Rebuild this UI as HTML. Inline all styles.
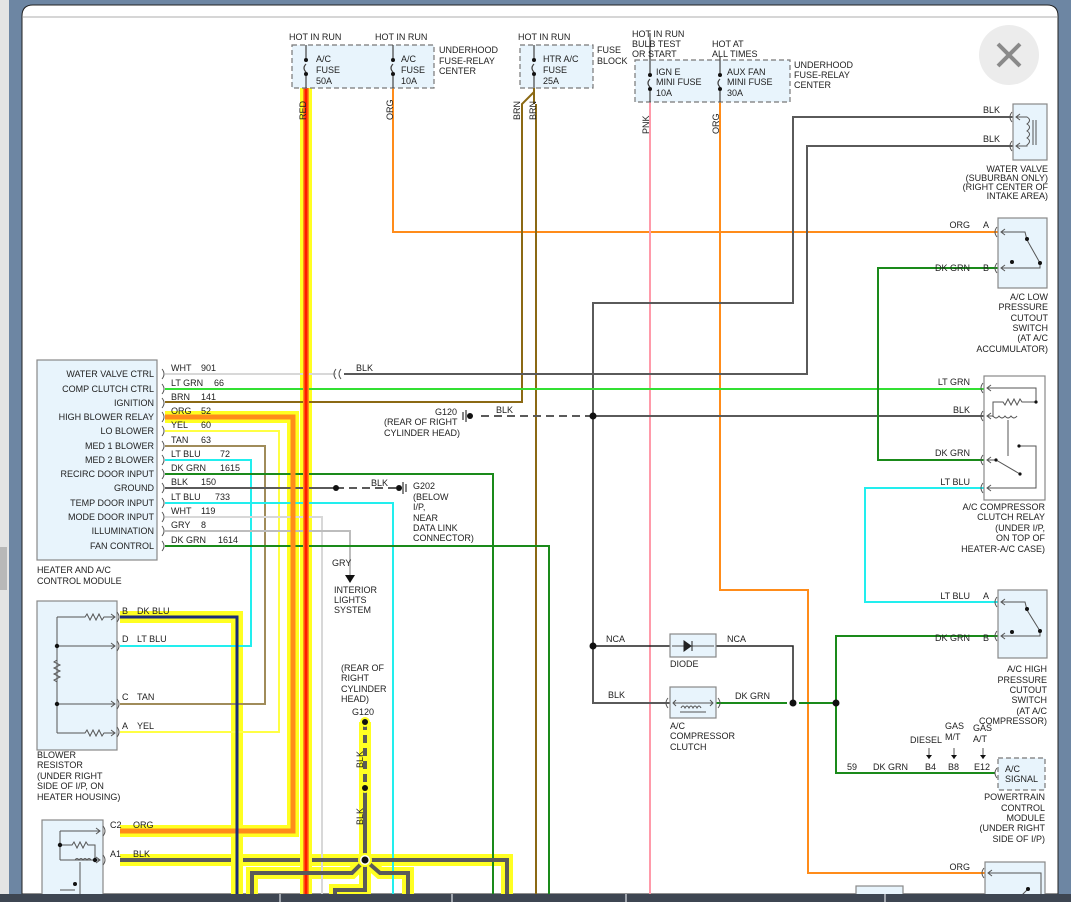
<!DOCTYPE html>
<html><head><meta charset="utf-8"><style>
html,body{margin:0;padding:0;width:1071px;height:902px;overflow:hidden;background:#6d86a3;}
svg{display:block;}
text{font-family:"Liberation Sans",sans-serif;font-size:9px;fill:#222;}
</style></head><body>
<svg width="1071" height="902" viewBox="0 0 1071 902" xmlns="http://www.w3.org/2000/svg">
<rect x="0" y="0" width="1071" height="902" fill="#6d86a3"/>
<rect x="0" y="0" width="9" height="902" fill="#e4e4e4"/>
<rect x="0" y="547" width="7" height="43" fill="#b8b8b8"/>
<path d="M22,894 L22,16 Q22,5 33,5 L1047,5 Q1058,5 1058,16 L1058,894 Z" fill="#fff" stroke="#222" stroke-width="1"/>
<line x1="23" y1="17" x2="1057" y2="17" stroke="#c8c8c8" stroke-width="1.5"/>
<circle cx="1009" cy="55" r="30" fill="#ececec"/>
<path d="M998,44 L1020,66 M1020,44 L998,66" stroke="#8a8a8a" stroke-width="4"/>

<g fill="none" stroke-linejoin="miter">
<g stroke="#ffff22" stroke-width="12">
<path d="M306,88 V894"/>
<path d="M165,417 H293 V831 H120"/>
<path d="M120,617 H237 V894"/>
<path d="M365,722 V860"/>
<path d="M120,860 H507 V894"/>
<path d="M365,860 L352,873 H252 V894"/>
<path d="M365,860 L380,873 H408 V894"/>
<path d="M365,860 V890 H335 V894"/>
</g>
<path d="M393,88 V232 H998" stroke="#ff8c1a" stroke-width="2"/>
<path d="M534,88 V104 M534,92 L522,104 V402 H165 M536,104 V894" stroke="#8b6914" stroke-width="2"/>
<path d="M650,102 V894" stroke="#ff9aaa" stroke-width="2"/>
<path d="M720,102 V590 H808 V873 H985" stroke="#ff8c1a" stroke-width="2"/>
<path d="M1013,117 H793 V303 H593 V703 H670" stroke="#5a5a5a" stroke-width="2"/>
<path d="M1013,146 H807 V374 H344" stroke="#5a5a5a" stroke-width="2"/>
<path d="M165,374 H336" stroke="#d8d8d8" stroke-width="2"/>
<path d="M165,389 H984" stroke="#33e033" stroke-width="2"/>
<path d="M984,416 H593" stroke="#5a5a5a" stroke-width="2"/>
<path d="M593,416 H478" stroke="#5a5a5a" stroke-width="2" stroke-dasharray="8,5"/>
<path d="M998,268 H878 V460 H984" stroke="#1a8a1a" stroke-width="2"/>
<path d="M984,488 H865 V602 H998" stroke="#22eeee" stroke-width="2"/>
<path d="M998,636 H836 V773 H995" stroke="#1a8a1a" stroke-width="2"/>
<path d="M716,703 H787 M799,703 H836" stroke="#1a8a1a" stroke-width="2"/>
<path d="M593,646 H670 M716,646 H793 V703" stroke="#222" stroke-width="1.5"/>
<path d="M165,431 H279 V732 H120" stroke="#ffff44" stroke-width="2"/>
<path d="M165,446 H265 V704 H120" stroke="#a08c5a" stroke-width="2"/>
<path d="M165,460 H251 V646 H120" stroke="#22eeee" stroke-width="2"/>
<path d="M165,474 H493 V894" stroke="#1a8a1a" stroke-width="2"/>
<path d="M165,488 H336" stroke="#5a5a5a" stroke-width="2"/>
<path d="M336,488 H398" stroke="#5a5a5a" stroke-width="2" stroke-dasharray="8,5"/>
<path d="M165,503 H393 V894" stroke="#22eeee" stroke-width="2"/>
<path d="M165,517 H322 V894" stroke="#d8d8d8" stroke-width="2"/>
<path d="M165,531 H350 V575" stroke="#bdbdbd" stroke-width="2"/>
<path d="M165,546 H549 V894" stroke="#1a8a1a" stroke-width="2"/>
<path d="M306,88 V894" stroke="#ff8c1a" stroke-width="6"/>
<path d="M306,88 V894" stroke="#ff1a00" stroke-width="3"/>
<path d="M165,417 H293 V831 H120" stroke="#ff8c1a" stroke-width="5"/>
<path d="M120,617 H237 V894" stroke="#1a2a7a" stroke-width="3"/>
<path d="M365,722 V788" stroke="#5a5a5a" stroke-width="4" stroke-dasharray="8,5"/>
<path d="M365,788 V860" stroke="#5a5a5a" stroke-width="4"/>
<path d="M120,860 H231 M243,860 H300 M312,860 H507 V894" stroke="#5a5a5a" stroke-width="4"/>
<path d="M365,860 L352,873 H252 V894" stroke="#5a5a5a" stroke-width="4"/>
<path d="M365,860 L380,873 H408 V894" stroke="#5a5a5a" stroke-width="4"/>
<path d="M365,860 V890 H335 V894" stroke="#5a5a5a" stroke-width="4"/>
</g>

<g fill="#111">
<circle cx="593" cy="416" r="3.5"/><circle cx="593" cy="646" r="3.5"/>
<circle cx="793" cy="703" r="3.5"/><circle cx="836" cy="703" r="3.5"/>
<circle cx="336" cy="488" r="3"/><circle cx="399" cy="488" r="3"/>
<circle cx="470" cy="416" r="3"/>
</g>
<circle cx="365" cy="722" r="5" fill="#ffff22"/><circle cx="365" cy="722" r="3" fill="#111"/>
<circle cx="365" cy="788" r="5" fill="#ffff22"/><circle cx="365" cy="788" r="3" fill="#111"/>
<circle cx="365" cy="860" r="6" fill="#fff" stroke="#ffff22" stroke-width="2"/><circle cx="365" cy="860" r="3.5" fill="#111"/>
<path d="M403,482 V494 M406,484 V492 M466,410 V422 M463,412 V420" stroke="#333" stroke-width="1.2"/>
<path d="M336,369 q-4,5 0,10 M341,369 q-4,5 0,10" stroke="#555" fill="none"/>
<path d="M345,575 L355,575 L350,583 Z" fill="#111"/>

<g fill="#e8f4fc" stroke="#777" stroke-dasharray="5,3" stroke-width="1.2">
<rect x="292" y="45" width="142" height="43"/>
<rect x="520" y="45" width="73" height="43"/>
<rect x="635" y="60" width="155" height="42"/>
<rect x="998" y="758" width="47" height="32"/>
</g>
<g stroke="#444" fill="none" stroke-width="1.2">
<path d="M306,45 V58 M306,64 q-4,4 0,8 M306,76 V88"/>
<path d="M393,45 V58 M393,64 q-4,4 0,8 M393,76 V88"/>
<path d="M534,45 V58 M534,64 q-4,4 0,8 M534,76 V88"/>
<path d="M650,45 V73 M650,79 q-4,4 0,8 M650,91 V102"/>
<path d="M720,60 V73 M720,79 q-4,4 0,8 M720,91 V102"/>
<path d="M650,33 V60 M720,60 V57"/>
</g>
<g fill="#111"><circle cx="306" cy="60" r="2"/><circle cx="306" cy="74" r="2"/><circle cx="393" cy="60" r="2"/><circle cx="393" cy="74" r="2"/><circle cx="534" cy="60" r="2"/><circle cx="534" cy="74" r="2"/><circle cx="650" cy="75" r="2"/><circle cx="650" cy="89" r="2"/><circle cx="720" cy="75" r="2"/><circle cx="720" cy="89" r="2"/></g>

<g fill="#e8f4fc" stroke="#888" stroke-width="1.2">
<rect x="37" y="360" width="120" height="200"/>
<rect x="37" y="601" width="80" height="149"/>
<rect x="42" y="820" width="61" height="76"/>
<rect x="1013" y="104" width="34" height="56"/>
<rect x="998" y="218" width="49" height="70"/>
<rect x="984" y="376" width="61" height="124" fill="#fff"/>
<rect x="998" y="590" width="49" height="68"/>
<rect x="670" y="634" width="46" height="23"/>
<rect x="670" y="687" width="46" height="31"/>
<rect x="985" y="862" width="60" height="40"/>
<rect x="856" y="886" width="47" height="16"/>
</g>

<g stroke="#555" fill="none" stroke-width="1">
<path d="M162,369 q4,5 0,10 M162,384 q4,5 0,10 M162,398 q4,5 0,10 M162,412 q4,5 0,10 M162,426 q4,5 0,10 M162,441 q4,5 0,10 M162,455 q4,5 0,10 M162,469 q4,5 0,10 M162,483 q4,5 0,10 M162,498 q4,5 0,10 M162,512 q4,5 0,10 M162,526 q4,5 0,10 M162,541 q4,5 0,10"/>
<path d="M117,612 q4,5 0,10 M117,641 q4,5 0,10 M117,699 q4,5 0,10 M117,727 q4,5 0,10 M103,826 q4,5 0,10 M103,855 q4,5 0,10"/>
<path d="M1012,112 q-4,5 0,10 M1012,141 q-4,5 0,10 M997,227 q-4,5 0,10 M997,263 q-4,5 0,10 M983,383 q-4,5 0,10 M983,411 q-4,5 0,10 M983,455 q-4,5 0,10 M983,483 q-4,5 0,10 M997,597 q-4,5 0,10 M997,631 q-4,5 0,10 M997,768 q-4,5 0,10 M984,868 q-4,5 0,10 M668,698 q-4,5 0,10 M718,698 q4,5 0,10"/>
<path d="M57,617 H85 l2,-3 3,6 3,-6 3,6 3,-6 3,6 2,-3 H115 M57,617 V733 M57,646 H115 M57,704 H115 M57,733 H85 l2,-3 3,6 3,-6 3,6 3,-6 3,6 2,-3 H115 M57,660 l-3,2 6,3 -6,3 6,3 -6,3 6,3 -6,3 3,2"/>
<path d="M111,614 l4,3 -4,3 M111,643 l4,3 -4,3 M111,701 l4,3 -4,3 M111,730 l4,3 -4,3"/>
<path d="M60,831 H100 M60,831 V860 M60,845 H72 l2,-3 3,6 3,-6 3,6 3,-6 2,3 H95 V860 M60,860 H100 M75,860 q2,-3 4,0 q2,-3 4,0 q2,-3 4,0 q2,-3 4,0 M80,862 V896"/>
<path d="M96,828 l4,3 -4,3 M96,857 l4,3 -4,3 M60,890 H75"/>
<path d="M1016,117 H1027 q5,3 0,7 q5,3 0,7 q5,3 0,7 q5,3 0,7 V146 H1016 M1033,120 V145 M1036,120 V145 M1020,114 l-4,3 4,3 M1020,143 l-4,3 4,3"/>
<path d="M1001,232 H1025 L1027,240 L1040,263 V268 H1001 M1005,229 l-4,3 4,3 M1005,265 l-4,3 4,3"/>
<path d="M987,388 H1036 V402 H1022 l-2,-3 -3,6 -3,-6 -3,6 -3,-6 -3,6 -2,-3 H993 V417 M987,416 H993 q3,4 6,0 q3,4 6,0 q3,4 6,0 q3,4 6,0 M1008,420 V456 M987,460 H996 L1020,474 M1019,446 H1036 V488 H987 M991,385 l-4,3 4,3 M991,413 l-4,3 4,3 M991,457 l-4,3 4,3 M991,485 l-4,3 4,3" />
<path d="M1001,602 H1025 L1027,610 L1040,631 V636 H1001 M1005,599 l-4,3 4,3 M1005,633 l-4,3 4,3"/>
<path d="M672,646 H714"/>
<path d="M673,703 H713 M676,700 l-3,3 3,3 M710,700 l3,3 -3,3 M681,708 q2,-4 4,0 q2,-4 4,0 q2,-4 4,0 q2,-4 4,0 q2,-4 4,0 M680,712 H706"/>
<path d="M988,873 H1041 V896 M992,870 l-4,3 4,3 M1020,897 L1028,889"/>
<path d="M929,748 V759 M954,748 V759 M983,748 V759"/>
</g>
<path d="M684,641 L684,651 L691,646 Z M692,641 V651" fill="#222" stroke="#222"/>
<g fill="#111">
<circle cx="57" cy="646" r="2.2"/><circle cx="57" cy="704" r="2.2"/><circle cx="60" cy="845" r="2.2"/><circle cx="95" cy="860" r="2.2"/><circle cx="75" cy="884" r="2"/>
<circle cx="1027" cy="239" r="2"/><circle cx="1040" cy="263" r="2"/><circle cx="1012" cy="262" r="2"/>
<circle cx="1027" cy="609" r="2"/><circle cx="1040" cy="631" r="2"/><circle cx="1012" cy="632" r="2"/>
<circle cx="1036" cy="402" r="1.6"/><circle cx="996" cy="460" r="1.6"/><circle cx="1020" cy="474" r="1.6"/><circle cx="1019" cy="446" r="1.6"/>
<path d="M926,755 h6 l-3,4 z M951,755 h6 l-3,4 z M980,755 h6 l-3,4 z"/>
<circle cx="1028" cy="889" r="2"/>
</g>

<g>
<text x="289" y="40">HOT IN RUN</text><text x="375" y="40">HOT IN RUN</text>
<text x="316" y="62">A/C</text><text x="316" y="73">FUSE</text><text x="316" y="84">50A</text>
<text x="401" y="62">A/C</text><text x="401" y="73">FUSE</text><text x="401" y="84">10A</text>
<text x="439" y="53">UNDERHOOD</text><text x="439" y="64">FUSE-RELAY</text><text x="439" y="74">CENTER</text>
<text x="518" y="40">HOT IN RUN</text>
<text x="543" y="62">HTR A/C</text><text x="543" y="73">FUSE</text><text x="543" y="84">25A</text>
<text x="597" y="53">FUSE</text><text x="597" y="64">BLOCK</text>
<text x="632" y="37">HOT IN RUN</text><text x="632" y="47">BULB TEST</text><text x="632" y="57">OR START</text>
<text x="712" y="47">HOT AT</text><text x="712" y="57">ALL TIMES</text>
<text x="656" y="75">IGN E</text><text x="656" y="85">MINI FUSE</text><text x="656" y="96">10A</text>
<text x="727" y="75">AUX FAN</text><text x="727" y="85">MINI FUSE</text><text x="727" y="96">30A</text>
<text x="794" y="68">UNDERHOOD</text><text x="794" y="78">FUSE-RELAY</text><text x="794" y="88">CENTER</text>
<text transform="translate(306,120) rotate(-90)">RED</text>
<text transform="translate(393,120) rotate(-90)">ORG</text>
<text transform="translate(520,120) rotate(-90)">BRN</text>
<text transform="translate(536,120) rotate(-90)">BRN</text>
<text transform="translate(649,134) rotate(-90)">PNK</text>
<text transform="translate(719,134) rotate(-90)">ORG</text>
<text transform="translate(363,768) rotate(-90)">BLK</text>
<text transform="translate(363,825) rotate(-90)">BLK</text>

<g text-anchor="end">
<text x="154" y="377">WATER VALVE CTRL</text><text x="154" y="392">COMP CLUTCH CTRL</text><text x="154" y="406">IGNITION</text><text x="154" y="420">HIGH BLOWER RELAY</text><text x="154" y="434">LO BLOWER</text><text x="154" y="449">MED 1 BLOWER</text><text x="154" y="463">MED 2 BLOWER</text><text x="154" y="477">RECIRC DOOR INPUT</text><text x="154" y="491">GROUND</text><text x="154" y="506">TEMP DOOR INPUT</text><text x="154" y="520">MODE DOOR INPUT</text><text x="154" y="534">ILLUMINATION</text><text x="154" y="549">FAN CONTROL</text>
<text x="1000" y="113">BLK</text><text x="1000" y="142">BLK</text>
<text x="1048" y="172">WATER VALVE</text><text x="1048" y="181">(SUBURBAN ONLY)</text><text x="1048" y="190">(RIGHT CENTER OF</text><text x="1048" y="199">INTAKE AREA)</text>
<text x="970" y="228">ORG</text><text x="970" y="271">DK GRN</text>
<text x="1048" y="300">A/C LOW</text><text x="1048" y="310">PRESSURE</text><text x="1048" y="321">CUTOUT</text><text x="1048" y="331">SWITCH</text><text x="1048" y="341">(AT A/C</text><text x="1048" y="352">ACCUMULATOR)</text>
<text x="970" y="385">LT GRN</text><text x="970" y="413">BLK</text><text x="970" y="456">DK GRN</text><text x="970" y="485">LT BLU</text>
<text x="1045" y="510">A/C COMPRESSOR</text><text x="1045" y="520">CLUTCH RELAY</text><text x="1045" y="531">(UNDER I/P,</text><text x="1045" y="541">ON TOP OF</text><text x="1045" y="552">HEATER-A/C CASE)</text>
<text x="970" y="599">LT BLU</text><text x="970" y="641">DK GRN</text>
<text x="1047" y="672">A/C HIGH</text><text x="1047" y="683">PRESSURE</text><text x="1047" y="693">CUTOUT</text><text x="1047" y="703">SWITCH</text><text x="1047" y="714">(AT A/C</text><text x="1047" y="724">COMPRESSOR)</text>
<text x="1045" y="800">POWERTRAIN</text><text x="1045" y="811">CONTROL</text><text x="1045" y="821">MODULE</text><text x="1045" y="831">(UNDER RIGHT</text><text x="1045" y="842">SIDE OF I/P)</text>
<text x="970" y="870">ORG</text>
</g>
<text x="983" y="228">A</text><text x="983" y="271">B</text><text x="983" y="599">A</text><text x="983" y="641">B</text>

<text x="171" y="371">WHT</text><text x="201" y="371">901</text>
<text x="171" y="386">LT GRN</text><text x="214" y="386">66</text>
<text x="171" y="400">BRN</text><text x="201" y="400">141</text>
<text x="171" y="414">ORG</text><text x="201" y="414">52</text>
<text x="171" y="428">YEL</text><text x="201" y="428">60</text>
<text x="171" y="443">TAN</text><text x="201" y="443">63</text>
<text x="171" y="457">LT BLU</text><text x="220" y="457">72</text>
<text x="171" y="471">DK GRN</text><text x="220" y="471">1615</text>
<text x="171" y="485">BLK</text><text x="201" y="485">150</text>
<text x="171" y="500">LT BLU</text><text x="215" y="500">733</text>
<text x="171" y="514">WHT</text><text x="201" y="514">119</text>
<text x="171" y="528">GRY</text><text x="201" y="528">8</text>
<text x="171" y="543">DK GRN</text><text x="218" y="543">1614</text>
<text x="356" y="371">BLK</text>
<text x="37" y="573">HEATER AND A/C</text><text x="37" y="584">CONTROL MODULE</text>
<text x="435" y="415">G120</text><text x="496" y="413">BLK</text>
<text x="384" y="425">(REAR OF RIGHT</text><text x="384" y="436">CYLINDER HEAD)</text>
<text x="371" y="486">BLK</text>
<text x="413" y="489">G202</text><text x="413" y="500">(BELOW</text><text x="413" y="510">I/P,</text><text x="413" y="521">NEAR</text><text x="413" y="531">DATA LINK</text><text x="413" y="541">CONNECTOR)</text>
<text x="332" y="566">GRY</text>
<text x="334" y="593">INTERIOR</text><text x="334" y="603">LIGHTS</text><text x="334" y="613">SYSTEM</text>
<text x="122" y="614">B</text><text x="137" y="614">DK BLU</text>
<text x="122" y="642">D</text><text x="137" y="642">LT BLU</text>
<text x="122" y="700">C</text><text x="137" y="700">TAN</text>
<text x="122" y="729">A</text><text x="137" y="729">YEL</text>
<text x="37" y="758">BLOWER</text><text x="37" y="768">RESISTOR</text><text x="37" y="779">(UNDER RIGHT</text><text x="37" y="789">SIDE OF I/P, ON</text><text x="37" y="800">HEATER HOUSING)</text>
<text x="341" y="671">(REAR OF</text><text x="341" y="681">RIGHT</text><text x="341" y="692">CYLINDER</text><text x="341" y="702">HEAD)</text>
<text x="352" y="715">G120</text>
<text x="110" y="828">C2</text><text x="133" y="828">ORG</text>
<text x="110" y="857">A1</text><text x="133" y="857">BLK</text>
<text x="606" y="642">NCA</text><text x="727" y="642">NCA</text>
<text x="670" y="667">DIODE</text>
<text x="608" y="698">BLK</text><text x="735" y="699">DK GRN</text>
<text x="670" y="729">A/C</text><text x="670" y="739">COMPRESSOR</text><text x="670" y="750">CLUTCH</text>
<text x="910" y="743">DIESEL</text><text x="945" y="729">GAS</text><text x="945" y="740">M/T</text><text x="973" y="731">GAS</text><text x="973" y="742">A/T</text>
<text x="847" y="770">59</text><text x="873" y="770">DK GRN</text><text x="925" y="770">B4</text><text x="948" y="770">B8</text><text x="974" y="770">E12</text>
<text x="1005" y="772">A/C</text><text x="1005" y="782">SIGNAL</text>
</g>

<rect x="0" y="894" width="1071" height="8" fill="#3e4652"/>
<path d="M280,894 V902 M452,894 V902 M626,894 V902 M885,894 V902" stroke="#bfc4ca" stroke-width="1.5"/>
</svg>
</body></html>
